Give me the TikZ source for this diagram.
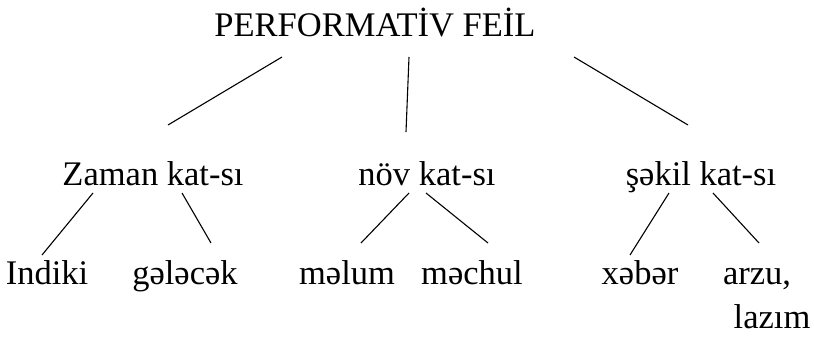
\documentclass[tikz,border=0pt]{standalone}
\usepackage{fontspec}
\setmainfont{Liberation Serif}
\begin{document}
\begin{tikzpicture}[x=1pt,y=-1pt,
  lbl/.style={anchor=base,inner sep=0pt,font=\fontsize{34.5}{40}\selectfont},
  branch/.style={line width=1.1pt}]
\useasboundingbox (0,0) rectangle (814,337);
% root
\node[lbl] (root) at (375,37) {PERFORMATİV FEİL};
% categories
\node[lbl] (zaman) at (153,185) {Zaman kat-sı};
\node[lbl] (nov) at (427,185) {növ kat-sı};
\node[lbl] (sekil) at (701,185) {şəkil kat-sı};
% leaves
\node[lbl] (indiki) at (47,284) {Indiki};
\node[lbl] (gelecek) at (185,284) {gələcək};
\node[lbl] (melum) at (347,284) {məlum};
\node[lbl] (mechul) at (472,284) {məchul};
\node[lbl] (xeber) at (640,284) {xəbər};
\node[lbl] (arzu) at (757,284) {arzu,};
\node[lbl] (lazim) at (772,328) {lazım};
% branch end points
\coordinate (r1) at (282,57);  \coordinate (z0) at (168,125);
\coordinate (r2) at (409,57);  \coordinate (n0) at (406,132);
\coordinate (r3) at (574,57);  \coordinate (s0) at (688,125);
\coordinate (z1) at (93,193);  \coordinate (i0) at (42,255);
\coordinate (z2) at (182,193); \coordinate (g0) at (211,243);
\coordinate (n1) at (409,193); \coordinate (m0) at (361,243);
\coordinate (n2) at (426,193); \coordinate (c0) at (488,243);
\coordinate (s1) at (669,193); \coordinate (x0) at (630,255);
\coordinate (s2) at (713,193); \coordinate (a0) at (759,243);
% branches
\draw[branch] (r1) -- (z0);
\draw[branch] (r2) -- (n0);
\draw[branch] (r3) -- (s0);
\draw[branch] (z1) -- (i0);
\draw[branch] (z2) -- (g0);
\draw[branch] (n1) -- (m0);
\draw[branch] (n2) -- (c0);
\draw[branch] (s1) -- (x0);
\draw[branch] (s2) -- (a0);
\end{tikzpicture}
\end{document}
